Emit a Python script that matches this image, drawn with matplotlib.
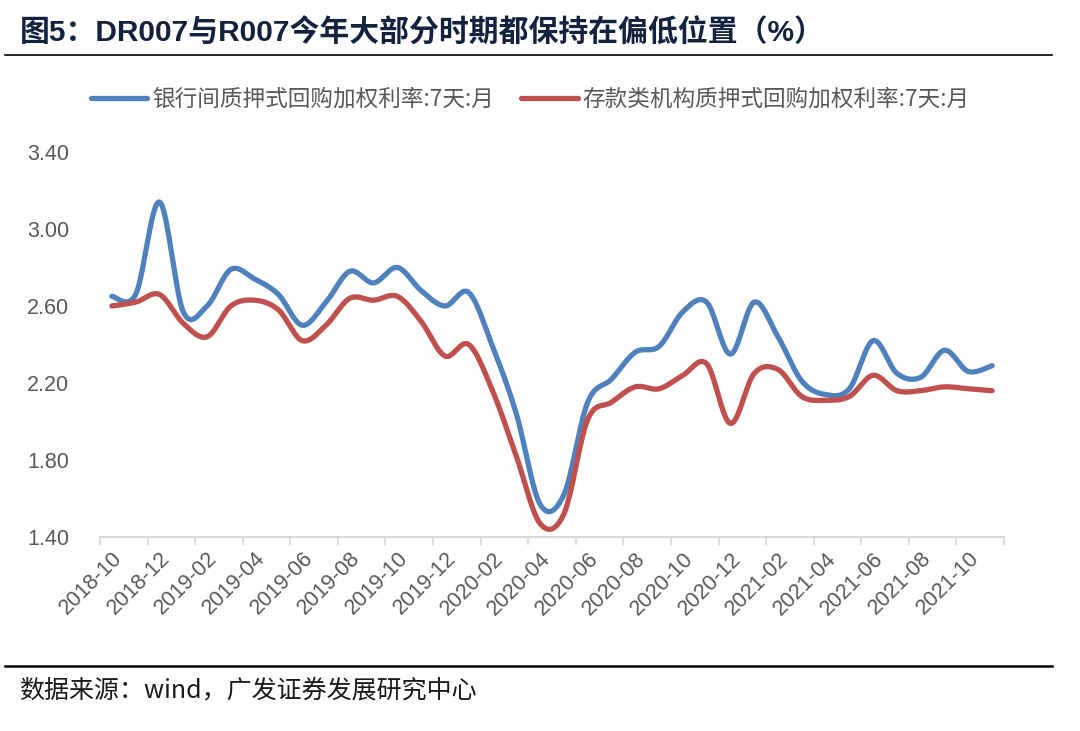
import numpy as np
import matplotlib
matplotlib.use("Agg")
import matplotlib.pyplot as plt
from matplotlib.lines import Line2D

plt.rcParams['font.family'] = ['Liberation Sans', 'Noto Sans CJK SC', 'DejaVu Sans']

months = ["2018-10", "2018-11", "2018-12", "2019-01", "2019-02", "2019-03", "2019-04", "2019-05",
          "2019-06", "2019-07", "2019-08", "2019-09", "2019-10", "2019-11", "2019-12", "2020-01",
          "2020-02", "2020-03", "2020-04", "2020-05", "2020-06", "2020-07", "2020-08", "2020-09",
          "2020-10", "2020-11", "2020-12", "2021-01", "2021-02", "2021-03", "2021-04", "2021-05",
          "2021-06", "2021-07", "2021-08", "2021-09", "2021-10", "2021-11"]

dr007 = [2.65, 2.66, 3.14, 2.57, 2.60, 2.79, 2.74, 2.66, 2.50, 2.62, 2.78, 2.72, 2.80, 2.68,
         2.60, 2.67, 2.39, 2.04, 1.57, 1.62, 2.10, 2.22, 2.36, 2.39, 2.57, 2.62, 2.35, 2.62,
         2.44, 2.21, 2.14, 2.17, 2.42, 2.25, 2.23, 2.37, 2.26, 2.29]

r007 = [2.60, 2.62, 2.66, 2.51, 2.44, 2.60, 2.63, 2.58, 2.42, 2.50, 2.64, 2.63, 2.65, 2.52,
        2.34, 2.40, 2.16, 1.82, 1.47, 1.52, 2.01, 2.10, 2.18, 2.17, 2.24, 2.30, 1.99, 2.25,
        2.27, 2.13, 2.11, 2.13, 2.24, 2.16, 2.16, 2.18, 2.17, 2.16]

series_names = ["银行间质押式回购加权利率:7天:月", "存款类机构质押式回购加权利率:7天:月"]
yticks = [1.40, 1.80, 2.20, 2.60, 3.00, 3.40]
title = "图5：DR007与R007今年大部分时期都保持在偏低位置（%）"
source = "数据来源：wind，广发证券发展研究中心"

colors = ["#4f81bd", "#c0504d"]


def smooth(y, n=20):
    y = np.asarray(y, float)
    x = np.arange(len(y), dtype=float)
    p = np.concatenate([[y[0]], y, [y[-1]]])
    px = np.concatenate([[x[0]], x, [x[-1]]])
    xs, ys = [], []
    t = np.linspace(0, 1, n, endpoint=False)
    for i in range(1, len(p) - 2):
        # Bezier segment (Excel-like smoothing)
        for arr, out in ((px, xs), (p, ys)):
            p0, p1, p2, p3 = arr[i - 1], arr[i], arr[i + 1], arr[i + 2]
            c1 = p1 + (p2 - p0) / 6.0
            c2 = p2 - (p3 - p1) / 6.0
            out.extend((1 - t) ** 3 * p1 + 3 * (1 - t) ** 2 * t * c1 + 3 * (1 - t) * t ** 2 * c2 + t ** 3 * p2)
    xs.append(x[-1]); ys.append(y[-1])
    return np.array(xs), np.array(ys)


fig = plt.figure(figsize=(10.8, 7.31), dpi=100)
ax = fig.add_axes([100 / 1080, 1 - 537 / 731, 904 / 1080, 385 / 731])

for vals, c in zip([dr007, r007], colors):
    sx, sy = smooth(vals)
    ax.plot(sx, sy, color=c, lw=3.8, solid_capstyle='round', solid_joinstyle='round')

ax.set_xlim(-0.5, len(months) - 0.5)
ax.set_ylim(1.40, 3.40)
ax.set_yticks(yticks)
ax.set_yticklabels([f"{v:.2f}" for v in yticks], fontsize=15.5, color="#595959")
ax.tick_params(axis='y', length=0, pad=22)

ax.set_xticks(np.arange(-0.5, len(months), 2), minor=False)
ax.set_xticklabels([])
ax.tick_params(axis='x', which='major', length=6, color="#d9d9d9", width=1.2)
ax.set_xticks(np.arange(0, len(months), 2), minor=True)
ax.set_xticklabels([months[i] for i in range(0, len(months), 2)], minor=True,
                   rotation=45, ha='right', rotation_mode='anchor', fontsize=15.5, color="#595959")
ax.tick_params(axis='x', which='minor', length=0, pad=8)

for s in ['top', 'right', 'left']:
    ax.spines[s].set_visible(False)
ax.spines['bottom'].set_color("#d9d9d9")
ax.spines['bottom'].set_linewidth(1.5)

handles = [Line2D([], [], color=c, lw=3.8, solid_capstyle='round') for c in colors]
fig.legend(handles, series_names, loc='center', bbox_to_anchor=(530 / 1080, 1 - 99 / 731), ncol=2,
           frameon=False, handlelength=2.5, handletextpad=0.2, columnspacing=1.2,
           labelcolor="#595959", prop={'family': ['Noto Sans CJK SC', 'DejaVu Sans'], 'size': 16.3})

fig.text(20 / 1080, 1 - 33 / 731, title, fontsize=21.5, fontweight='bold', color="#13233f",
         va='center', ha='left', family=['Liberation Sans', 'Noto Sans CJK SC'])
fig.add_artist(Line2D([5 / 1080, 1052 / 1080], [1 - 55 / 731, 1 - 55 / 731], color='black', lw=1.2))
fig.add_artist(Line2D([5 / 1080, 1052 / 1080], [1 - 666 / 731, 1 - 666 / 731], color='black', lw=1.8))
fig.text(19 / 1080, 1 - 690 / 731, source, fontsize=18, color="#1a1a1a", va='center', ha='left',
         family=['Noto Sans CJK SC', 'Liberation Sans'])

fig.savefig("out.png", dpi=100)
